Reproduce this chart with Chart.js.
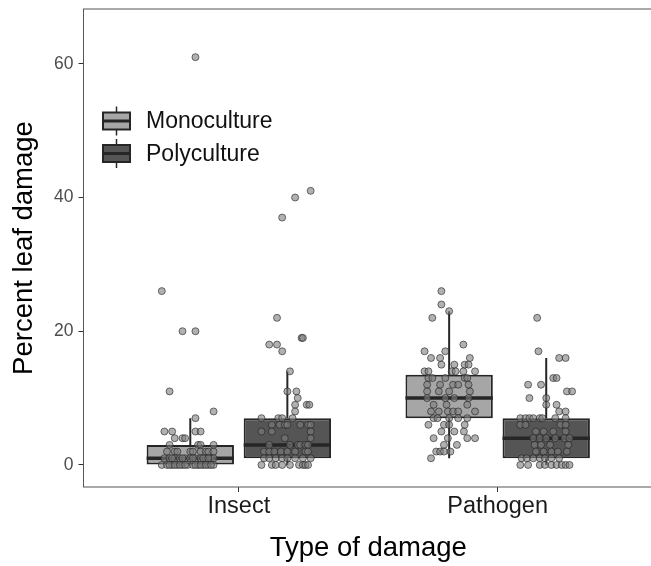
<!DOCTYPE html>
<html>
<head>
<meta charset="utf-8">
<script src="https://cdn.jsdelivr.net/npm/chart.js@4.4.0/dist/chart.umd.min.js"></script>
<style>
  html, body { margin: 0; padding: 0; background: #fff; overflow: hidden; }
  #wrap { width: 658px; height: 566px; }
</style>
</head>
<body>
<div id="wrap"><canvas id="chart" width="658" height="566"></canvas></div>
<script>
// Categories, groups and ticks
const categories = ["Insect", "Pathogen"]
const groups = ["Monoculture", "Polyculture"]
const yTicks = [0, 20, 40, 60]

// Box summaries: [lower whisker, q1, median, q3, upper whisker]
const insectMonoStats = [0, 0, 1, 3, 7]
const insectPolyStats = [0, 1, 3, 7, 14]
const pathogenMonoStats = [1, 7, 10, 13.5, 23]
const pathogenPolyStats = [0, 1, 4, 7, 16]

// Jittered observations: [horizontal jitter, percent damage]
const insectMonoPts = [
    [0.02, 61], [-0.11, 26], [-0.03, 20], [0.02, 20], [-0.08, 11], [0.09, 8], [0.02, 7],
    [-0.10, 5], [-0.07, 5], [0.02, 5], [0.04, 5],
    [-0.06, 4], [-0.03, 4], [-0.02, 4],
    [-0.08, 3], [0.03, 3], [0.04, 3], [0.09, 3],
    [-0.09, 2], [-0.06, 2], [-0.05, 2], [0, 2], [0.01, 2], [0.04, 2], [0.06, 2], [0.07, 2], [0.09, 2],
    [-0.10, 1], [-0.08, 1], [-0.06, 1], [-0.04, 1], [-0.02, 1], [0, 1], [0.02, 1], [0.04, 1], [0.06, 1], [0.08, 1], [0.09, 1],
    [-0.07, 1], [-0.03, 1], [0.01, 1], [0.05, 1], [0.07, 1],
    [-0.11, 0], [-0.09, 0], [-0.07, 0], [-0.05, 0], [-0.03, 0], [-0.01, 0], [0.01, 0], [0.03, 0], [0.05, 0], [0.07, 0], [0.09, 0],
    [-0.08, 0], [-0.06, 0], [-0.04, 0], [-0.02, 0], [0.02, 0], [0.04, 0], [0.06, 0], [0.08, 0]
]
const insectPolyPts = [
    [0.09, 41], [0.03, 40], [-0.02, 37], [-0.04, 22], [-0.07, 18], [-0.04, 18], [0.055, 19], [0.06, 19],
    [-0.02, 17], [0.01, 14], [0, 11], [0.035, 11], [0.04, 10], [0.03, 9], [0.075, 9], [0.085, 9], [0.03, 8],
    [-0.10, 7], [-0.035, 7], [-0.02, 7], [0.02, 7],
    [-0.06, 6], [-0.03, 6], [-0.01, 6], [0, 6], [0.05, 6], [0.08, 6], [0.09, 6],
    [-0.10, 5], [-0.06, 5], [0.09, 5],
    [-0.01, 4], [0.09, 4],
    [-0.07, 3], [0.01, 3], [0.04, 3], [0.05, 3], [0.07, 3], [0.08, 3],
    [-0.09, 2], [-0.07, 2], [-0.05, 2], [-0.025, 2], [0, 2], [0.03, 2], [0.07, 2], [0.08, 2],
    [-0.09, 1], [-0.07, 1], [-0.045, 1], [-0.02, 1], [0, 1], [0.03, 1], [0.06, 1], [0.09, 1],
    [-0.10, 0], [-0.06, 0], [-0.045, 0], [-0.02, 0], [0.01, 0], [0.045, 0], [0.06, 0], [0.07, 0], [0.08, 0]
]
const pathogenMonoPts = [
    [-0.03, 26], [-0.03, 24], [0, 23], [-0.065, 22], [0.055, 18], [-0.095, 17], [-0.015, 17],
    [-0.07, 16], [-0.035, 16], [0.08, 16],
    [-0.03, 15], [0.02, 15], [0.06, 15], [0.075, 15],
    [-0.095, 14], [-0.08, 14], [0.01, 14], [0.025, 14], [0.055, 14], [0.1, 14],
    [-0.08, 13], [-0.065, 13], [-0.015, 13], [0.06, 13], [0.07, 13],
    [-0.085, 12], [-0.035, 12], [0.015, 12], [0.035, 12], [0.075, 12],
    [-0.085, 11], [-0.04, 11], [0, 11], [0.08, 11],
    [-0.085, 10], [-0.015, 10], [0.02, 10], [0.075, 10],
    [-0.06, 9], [-0.01, 9], [0.07, 9],
    [-0.07, 8], [-0.04, 8], [-0.005, 8], [0.015, 8], [0.035, 8], [0.1, 8],
    [-0.06, 7], [-0.045, 7], [0, 7], [0.035, 7], [0.07, 7],
    [-0.08, 6], [-0.02, 6], [0, 6], [0.06, 6],
    [-0.03, 5], [0.02, 5], [0.057, 5],
    [-0.06, 4], [-0.005, 4], [0.07, 4], [0.1, 4],
    [-0.02, 3], [0.03, 3],
    [-0.05, 2], [-0.035, 2], [-0.02, 2], [0.005, 2],
    [-0.07, 1]
]
const pathogenPolyPts = [
    [-0.035, 22], [-0.03, 17], [0.05, 16], [0.075, 16], [0.027, 13], [0.04, 13], [-0.07, 12], [-0.02, 12],
    [0.08, 11], [0.1, 11], [-0.065, 10], [0, 10], [0, 9], [0.04, 9], [0.05, 8], [0.075, 8],
    [-0.1, 7], [-0.08, 7], [-0.065, 7], [-0.05, 7], [-0.025, 7], [-0.015, 7], [0.035, 7], [0.075, 7],
    [-0.1, 6], [-0.08, 6], [0.055, 6], [0.075, 6],
    [-0.04, 5], [-0.01, 5], [0.027, 5], [0.075, 5],
    [-0.05, 4], [-0.025, 4], [0, 4], [0.035, 4], [0.07, 4], [0.09, 4],
    [-0.045, 3], [-0.02, 3], [0.015, 3], [0.085, 3],
    [-0.04, 2], [-0.01, 2], [0.02, 2], [0.045, 2], [0.08, 2],
    [-0.095, 1], [-0.075, 1], [-0.05, 1], [-0.025, 1], [-0.005, 1], [0.02, 1], [0.05, 1],
    [-0.1, 0], [-0.07, 0], [-0.025, 0], [-0.005, 0], [0.02, 0], [0.04, 0], [0.06, 0], [0.075, 0], [0.09, 0]
]

// Styling
const groupColors = ["#a6a6a6", "#555555"]
const lineColor = "#262626"
const dodge = 0.1875
const halfBox = 0.16875

Chart.defaults.font.family = "'Liberation Sans', Arial, sans-serif"

// Build the series table
const series = [
    { cat: 0, grp: 0, stats: insectMonoStats, pts: insectMonoPts },
    { cat: 0, grp: 1, stats: insectPolyStats, pts: insectPolyPts },
    { cat: 1, grp: 0, stats: pathogenMonoStats, pts: pathogenMonoPts },
    { cat: 1, grp: 1, stats: pathogenPolyStats, pts: pathogenPolyPts }
]
series.forEach(s => { s.x = s.cat + 1 + (s.grp === 0 ? -dodge : dodge) })

const boxData = series.map(s => ({ x: s.x, y: [s.stats[1], s.stats[3]] }))
const whiskerData = []
const medianData = []
for (let s of series) {
    whiskerData.push({ x: s.x, y: s.stats[3] }, { x: s.x, y: s.stats[4] }, { x: s.x, y: null })
    whiskerData.push({ x: s.x, y: s.stats[1] }, { x: s.x, y: s.stats[0] }, { x: s.x, y: null })
    medianData.push({ x: s.x - halfBox, y: s.stats[2] }, { x: s.x + halfBox, y: s.stats[2] }, { x: s.x, y: null })
}
const pointData = series.flatMap(s => s.pts.map(p => ({ x: s.x + p[0], y: p[1] })))

// Panel border and the in-panel legend
const panelPlugin = {
    id: "panel",
    afterDatasetsDraw(chart) {
        const { ctx, chartArea: a } = chart
        ctx.save()
        ctx.strokeStyle = "#555"
        ctx.lineWidth = 1
        ctx.strokeRect(a.left, a.top, a.right - a.left, a.bottom - a.top)

        const x0 = a.left + 19.5
        const y0 = a.top + 103.5
        groups.forEach((g, i) => {
            const y = y0 + i * 32.5
            ctx.strokeStyle = lineColor
            ctx.lineWidth = 1.5
            ctx.beginPath()
            ctx.moveTo(x0 + 13.5, y - 6)
            ctx.lineTo(x0 + 13.5, y + 23)
            ctx.stroke()
            ctx.fillStyle = groupColors[i]
            ctx.fillRect(x0, y, 27, 17)
            ctx.lineWidth = 2
            ctx.strokeRect(x0, y, 27, 17)
            ctx.lineWidth = 3
            ctx.beginPath()
            ctx.moveTo(x0, y + 8.5)
            ctx.lineTo(x0 + 27, y + 8.5)
            ctx.stroke()
            ctx.fillStyle = "#111"
            ctx.font = "23px 'Liberation Sans', Arial, sans-serif"
            ctx.textBaseline = "middle"
            ctx.fillText(g, x0 + 43, y + 9.5)
        })
        ctx.restore()
    }
}

new Chart(document.getElementById("chart"), {
    type: "bar",
    data: {
        datasets: [
            {
                type: "scatter",
                data: pointData,
                backgroundColor: "rgba(125,125,125,0.6)",
                borderColor: "rgba(30,30,30,0.6)",
                borderWidth: 1,
                pointRadius: 3.5,
                order: 0
            },
            {
                type: "line",
                data: medianData,
                borderColor: lineColor,
                borderWidth: 3.5,
                pointRadius: 0,
                spanGaps: false,
                order: 1
            },
            {
                type: "bar",
                data: boxData,
                backgroundColor: series.map(s => groupColors[s.grp]),
                borderColor: lineColor,
                borderWidth: 2,
                borderSkipped: false,
                categoryPercentage: 1,
                barPercentage: 0.9,
                order: 2
            },
            {
                type: "line",
                data: whiskerData,
                borderColor: lineColor,
                borderWidth: 2,
                pointRadius: 0,
                spanGaps: false,
                order: 3
            }
        ]
    },
    options: {
        responsive: false,
        animation: false,
        layout: { padding: { top: 9, right: 4, left: 0, bottom: 0 } },
        plugins: { legend: { display: false }, tooltip: { enabled: false } },
        scales: {
            x: {
                type: "linear",
                min: 0.4,
                max: 2.6,
                offset: false,
                afterBuildTicks: s => { s.ticks = categories.map((c, i) => ({ value: i + 1 })) },
                afterFit: s => { s.height = 79; s.paddingLeft = 0; s.paddingRight = 0 },
                ticks: {
                    callback: v => categories[Math.round(v) - 1],
                    font: { size: 23.5 },
                    color: "#1a1a1a",
                    padding: 0,
                    autoSkip: false,
                    maxRotation: 0
                },
                grid: { drawOnChartArea: false, tickLength: 5, color: "#333", offset: false },
                border: { display: false },
                title: {
                    display: true,
                    text: "Type of damage",
                    font: { size: 27.5 },
                    color: "#000",
                    padding: { top: 0, bottom: 1.5 }
                }
            },
            y: {
                min: -3.3,
                max: 68.2,
                afterBuildTicks: s => { s.ticks = yTicks.map(v => ({ value: v })) },
                afterFit: s => { s.width = 83.5; s.paddingTop = 0; s.paddingBottom = 0 },
                ticks: { font: { size: 17.5 }, color: "#4d4d4d", padding: 5 },
                grid: { drawOnChartArea: false, tickLength: 5, color: "#333" },
                border: { display: false },
                title: {
                    display: true,
                    text: "Percent leaf damage",
                    font: { size: 27.5 },
                    color: "#000",
                    padding: { top: 7.5, bottom: 0 }
                }
            }
        }
    },
    plugins: [panelPlugin]
})
</script>
</body>
</html>
